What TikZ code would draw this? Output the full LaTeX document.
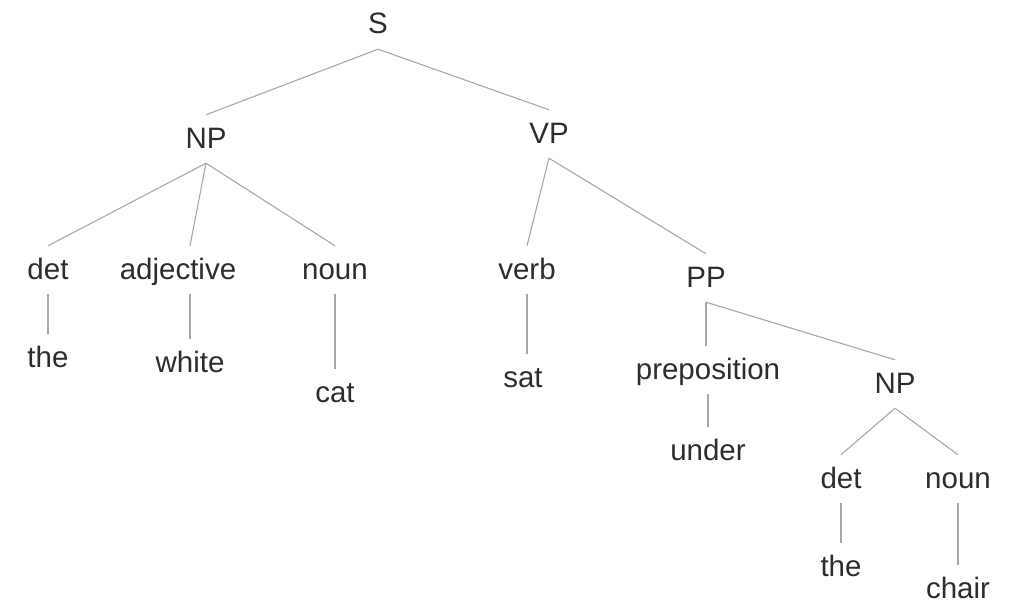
\documentclass[tikz,border=0pt]{standalone}
\usepackage{fontspec}
\setmainfont{Liberation Sans}
\definecolor{txt}{RGB}{45,45,45}
\definecolor{ln}{RGB}{168,168,168}
\begin{document}
\begin{tikzpicture}[x=1pt,y=-1pt,
  lbl/.style={font=\fontsize{29.5}{35}\selectfont, text=txt, inner xsep=0pt, inner ysep=0pt,
              text height=33pt, text depth=15pt, anchor=base},
  branch/.style={draw=ln, line width=1.1pt}]
\useasboundingbox[fill=white] (0,0) rectangle (1012,605);
\node[lbl] (S) at (378,34) {S};
\node[lbl] (NP) at (206,148) {NP};
\node[lbl] (VP) at (549,143) {VP};
\node[lbl] (det) at (48,279) {det};
\node[lbl] (adj) at (178,279) {adjective};
\node[lbl] (noun) at (335,279) {noun};
\node[lbl] (the) at (48,367) {the};
\node[lbl] (white) at (190,372) {white};
\node[lbl] (cat) at (335,402) {cat};
\node[lbl] (verb) at (527,279) {verb};
\node[lbl] (sat) at (523,387) {sat};
\node[lbl] (PP) at (706,287) {PP};
\node[lbl] (prep) at (708,379) {preposition};
\node[lbl] (NPb) at (895,393) {NP};
\node[lbl] (under) at (708,460) {under};
\node[lbl] (detb) at (841,488) {det};
\node[lbl] (nounb) at (958,488) {noun};
\node[lbl] (theb) at (841,576) {the};
\node[lbl] (chair) at (958,598) {chair};
\draw[branch] (S.south) -- (NP.north);
\draw[branch] (S.south) -- (VP.north);
\draw[branch] (NP.south) -- (det.north);
\draw[branch] (NP.south) -- (adj.north -| white.north);
\draw[branch] (NP.south) -- (noun.north);
\draw[branch] (det.south) -- (the.north);
\draw[branch] (adj.south -| white.north) -- (white.north);
\draw[branch] (noun.south) -- (cat.north);
\draw[branch] (VP.south) -- (verb.north);
\draw[branch] (VP.south) -- (PP.north);
\draw[branch] (verb.south) -- (verb.south |- sat.north);
\draw[branch] (PP.south) -- (PP.south |- prep.north);
\draw[branch] (PP.south) -- (NPb.north);
\draw[branch] (prep.south) -- (under.north);
\draw[branch] (NPb.south) -- (detb.north);
\draw[branch] (NPb.south) -- (nounb.north);
\draw[branch] (detb.south) -- (theb.north);
\draw[branch] (nounb.south) -- (chair.north);
\end{tikzpicture}
\end{document}
